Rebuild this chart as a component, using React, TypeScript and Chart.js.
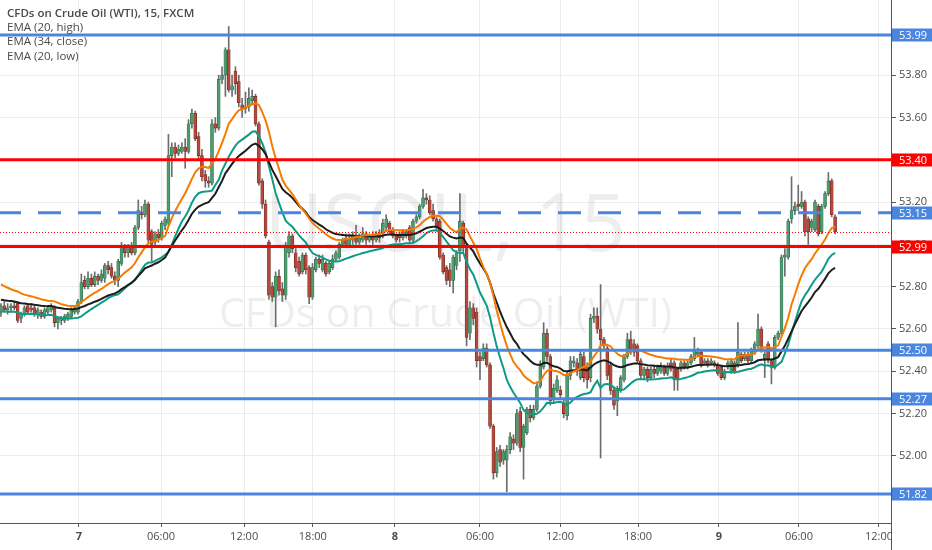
import { useEffect, useRef } from 'react';
import { Chart, registerables } from 'chart.js';

Chart.register(...registerables);

// [open, high, low, close], one row per 15 min bar
type Bar = [number, number, number, number];

const barsDay6: Bar[] = [
    [52.68, 52.72, 52.66, 52.71], [52.71, 52.73, 52.68, 52.69], [52.69, 52.72, 52.67, 52.70], [52.70, 52.72, 52.68, 52.71],
    [52.71, 52.73, 52.69, 52.70], [52.72, 52.73, 52.63, 52.64], [52.65, 52.68, 52.63, 52.67], [52.67, 52.71, 52.66, 52.70],
    [52.71, 52.72, 52.67, 52.68], [52.70, 52.72, 52.68, 52.69], [52.70, 52.71, 52.66, 52.67], [52.67, 52.70, 52.65, 52.69],
    [52.68, 52.69, 52.65, 52.66], [52.66, 52.70, 52.65, 52.69], [52.68, 52.71, 52.67, 52.70], [52.69, 52.72, 52.68, 52.71],
    [52.70, 52.71, 52.61, 52.63], [52.63, 52.66, 52.60, 52.65], [52.64, 52.66, 52.62, 52.65], [52.64, 52.67, 52.63, 52.66],
    [52.65, 52.68, 52.64, 52.67], [52.66, 52.70, 52.65, 52.69], [52.68, 52.71, 52.67, 52.70],
];

const barsDay7: Bar[] = [
    [52.68, 52.74, 52.67, 52.73], [52.73, 52.86, 52.72, 52.82], [52.83, 52.85, 52.79, 52.80], [52.80, 52.87, 52.79, 52.84],
    [52.84, 52.86, 52.80, 52.81], [52.81, 52.87, 52.80, 52.85], [52.85, 52.86, 52.81, 52.83], [52.83, 52.88, 52.82, 52.86],
    [52.84, 52.91, 52.82, 52.90], [52.90, 52.92, 52.86, 52.88], [52.89, 52.91, 52.84, 52.85], [52.85, 52.87, 52.81, 52.83],
    [52.83, 52.93, 52.80, 52.92], [52.91, 53.01, 52.90, 52.99], [52.99, 53.00, 52.94, 52.96], [52.96, 53.00, 52.94, 52.99],
    [52.99, 53.01, 52.95, 52.96], [52.96, 53.09, 52.95, 53.08], [53.08, 53.21, 53.07, 53.16], [53.15, 53.18, 53.12, 53.14],
    [53.14, 53.21, 53.13, 53.19], [53.19, 53.20, 53.01, 53.02], [53.06, 53.07, 52.92, 53.00], [53.01, 53.06, 52.99, 53.05],
    [53.05, 53.07, 53.01, 53.03], [53.03, 53.11, 53.02, 53.10], [53.09, 53.13, 53.07, 53.12], [53.10, 53.52, 53.09, 53.42],
    [53.42, 53.48, 53.32, 53.46], [53.46, 53.48, 53.41, 53.43], [53.43, 53.47, 53.42, 53.45], [53.44, 53.48, 53.43, 53.46],
    [53.46, 53.50, 53.36, 53.44], [53.44, 53.59, 53.43, 53.57], [53.57, 53.64, 53.55, 53.62], [53.62, 53.63, 53.49, 53.50],
    [53.51, 53.53, 53.40, 53.42], [53.42, 53.45, 53.30, 53.32], [53.33, 53.35, 53.27, 53.30], [53.30, 53.32, 53.27, 53.29],
    [53.29, 53.59, 53.28, 53.57], [53.57, 53.60, 53.53, 53.55], [53.55, 53.80, 53.54, 53.78], [53.78, 53.84, 53.76, 53.80],
    [53.80, 53.93, 53.70, 53.92], [53.92, 54.03, 53.72, 53.73], [53.73, 53.80, 53.70, 53.75], [53.82, 53.84, 53.71, 53.76],
    [53.77, 53.80, 53.65, 53.67], [53.66, 53.69, 53.60, 53.64], [53.64, 53.72, 53.62, 53.65], [53.65, 53.74, 53.63, 53.69],
    [53.68, 53.73, 53.66, 53.70], [53.70, 53.71, 53.56, 53.57], [53.57, 53.58, 53.28, 53.29], [53.30, 53.31, 53.17, 53.19],
    [53.19, 53.21, 53.03, 53.04], [53.01, 53.02, 52.74, 52.76], [52.80, 52.82, 52.73, 52.75], [52.75, 52.87, 52.61, 52.85],
    [52.85, 52.88, 52.76, 52.78], [52.79, 52.82, 52.73, 52.76], [52.76, 53.01, 52.74, 52.99], [52.96, 53.06, 52.94, 53.04],
    [53.04, 53.05, 52.96, 52.98], [52.96, 52.98, 52.87, 52.89], [52.92, 52.94, 52.85, 52.86], [52.87, 52.96, 52.86, 52.95],
    [52.95, 52.96, 52.86, 52.88], [52.89, 52.90, 52.72, 52.75], [52.75, 52.91, 52.74, 52.89], [52.88, 52.94, 52.87, 52.93],
    [52.93, 52.95, 52.89, 52.91], [52.88, 52.95, 52.87, 52.93], [52.91, 52.92, 52.85, 52.86], [52.87, 52.92, 52.86, 52.91],
    [52.89, 52.95, 52.88, 52.93], [52.93, 52.97, 52.92, 52.96], [52.94, 53.01, 52.93, 53.00], [53.00, 53.03, 52.99, 53.02],
    [53.03, 53.05, 52.99, 53.00], [53.00, 53.05, 52.99, 53.03], [53.02, 53.06, 53.00, 53.04], [53.04, 53.09, 53.00, 53.01],
    [53.01, 53.05, 53.00, 53.03], [53.02, 53.08, 53.01, 53.05], [53.05, 53.06, 53.00, 53.02], [53.02, 53.05, 53.01, 53.04],
    [53.04, 53.06, 53.00, 53.02], [53.02, 53.06, 53.01, 53.05], [53.05, 53.07, 53.01, 53.03], [53.05, 53.12, 53.03, 53.10],
    [53.08, 53.14, 53.06, 53.12], [53.10, 53.11, 53.05, 53.06], [53.07, 53.08, 53.03, 53.04], [53.04, 53.05, 53.01, 53.02],
];

const barsDay8: Bar[] = [
    [53.05, 53.06, 53.01, 53.03], [53.03, 53.07, 53.02, 53.06], [53.04, 53.07, 53.03, 53.06], [53.08, 53.09, 53.01, 53.02],
    [53.02, 53.12, 53.01, 53.11], [53.11, 53.14, 53.10, 53.13], [53.13, 53.19, 53.12, 53.18], [53.18, 53.26, 53.17, 53.22],
    [53.22, 53.24, 53.19, 53.21], [53.21, 53.23, 53.14, 53.15], [53.16, 53.19, 53.11, 53.12], [53.12, 53.13, 53.07, 53.08],
    [53.11, 53.12, 52.93, 52.94], [52.95, 52.96, 52.86, 52.87], [52.89, 52.90, 52.81, 52.83], [52.88, 52.91, 52.80, 52.83],
    [52.83, 52.95, 52.77, 52.94], [52.90, 52.97, 52.88, 52.96], [52.97, 53.24, 52.92, 53.11], [53.10, 53.11, 52.96, 52.99],
    [52.98, 53.00, 52.52, 52.56], [52.58, 52.73, 52.55, 52.70], [52.70, 52.72, 52.62, 52.65], [52.68, 52.70, 52.42, 52.45],
    [52.47, 52.49, 52.36, 52.45], [52.46, 52.53, 52.45, 52.51], [52.51, 52.53, 52.42, 52.43], [52.43, 52.44, 52.13, 52.14],
    [52.14, 52.15, 51.89, 51.92], [51.92, 52.04, 51.90, 52.02], [52.03, 52.05, 51.95, 51.97], [51.98, 52.03, 51.96, 52.02],
    [51.98, 52.05, 51.83, 52.03], [52.03, 52.11, 52.01, 52.09], [52.08, 52.10, 52.03, 52.06], [52.06, 52.22, 52.05, 52.20],
    [52.21, 52.23, 52.02, 52.04], [52.04, 52.15, 51.89, 52.14], [52.11, 52.23, 52.10, 52.22], [52.22, 52.24, 52.16, 52.18],
    [52.18, 52.24, 52.17, 52.22], [52.22, 52.35, 52.21, 52.33], [52.33, 52.45, 52.32, 52.43], [52.42, 52.63, 52.41, 52.58],
    [52.58, 52.60, 52.45, 52.47], [52.47, 52.48, 52.24, 52.26], [52.27, 52.34, 52.25, 52.32], [52.31, 52.38, 52.30, 52.36],
    [52.31, 52.33, 52.27, 52.29], [52.25, 52.27, 52.18, 52.20], [52.19, 52.40, 52.17, 52.38], [52.38, 52.47, 52.36, 52.45],
    [52.44, 52.47, 52.42, 52.45], [52.44, 52.46, 52.38, 52.40], [52.37, 52.50, 52.36, 52.48], [52.47, 52.49, 52.35, 52.37],
    [52.42, 52.44, 52.32, 52.36], [52.37, 52.67, 52.35, 52.65], [52.65, 52.70, 52.63, 52.66], [52.66, 52.70, 52.58, 52.60],
    [52.60, 52.81, 51.99, 52.55], [52.55, 52.56, 52.50, 52.52], [52.51, 52.52, 52.36, 52.38], [52.43, 52.44, 52.29, 52.31],
    [52.31, 52.32, 52.22, 52.24], [52.26, 52.33, 52.19, 52.32], [52.31, 52.38, 52.30, 52.37], [52.36, 52.48, 52.35, 52.47],
    [52.47, 52.58, 52.46, 52.55], [52.55, 52.59, 52.48, 52.49], [52.53, 52.55, 52.47, 52.49], [52.52, 52.53, 52.44, 52.45],
    [52.45, 52.46, 52.36, 52.38], [52.38, 52.42, 52.36, 52.41], [52.41, 52.42, 52.35, 52.37], [52.37, 52.42, 52.36, 52.41],
    [52.41, 52.43, 52.37, 52.39], [52.39, 52.43, 52.38, 52.42], [52.40, 52.44, 52.39, 52.42], [52.42, 52.43, 52.38, 52.39],
    [52.39, 52.44, 52.38, 52.42], [52.44, 52.46, 52.40, 52.41], [52.44, 52.45, 52.31, 52.36], [52.41, 52.42, 52.31, 52.36],
    [52.41, 52.45, 52.40, 52.44], [52.44, 52.45, 52.41, 52.42], [52.42, 52.45, 52.41, 52.44], [52.44, 52.48, 52.43, 52.47],
    [52.46, 52.56, 52.45, 52.50], [52.48, 52.51, 52.47, 52.49], [52.49, 52.50, 52.42, 52.43], [52.44, 52.46, 52.43, 52.45],
    [52.45, 52.46, 52.42, 52.43], [52.44, 52.46, 52.43, 52.45], [52.44, 52.45, 52.42, 52.43], [52.43, 52.44, 52.38, 52.39],
];

const barsDay9: Bar[] = [
    [52.42, 52.43, 52.36, 52.37], [52.37, 52.41, 52.36, 52.40], [52.42, 52.45, 52.41, 52.44], [52.40, 52.46, 52.39, 52.45],
    [52.44, 52.45, 52.39, 52.40], [52.43, 52.63, 52.42, 52.49], [52.48, 52.49, 52.44, 52.45], [52.46, 52.49, 52.45, 52.48],
    [52.48, 52.49, 52.44, 52.45], [52.45, 52.51, 52.44, 52.50], [52.49, 52.54, 52.48, 52.53], [52.52, 52.67, 52.51, 52.60],
    [52.60, 52.61, 52.49, 52.50], [52.46, 52.50, 52.37, 52.48], [52.53, 52.54, 52.44, 52.46], [52.45, 52.46, 52.34, 52.42],
    [52.42, 52.57, 52.41, 52.56], [52.56, 52.59, 52.55, 52.58], [52.58, 52.95, 52.57, 52.94], [52.94, 52.98, 52.85, 52.95],
    [52.94, 53.12, 52.93, 53.11], [53.12, 53.32, 53.10, 53.16], [53.16, 53.20, 53.14, 53.18], [53.19, 53.28, 53.16, 53.18],
    [53.18, 53.25, 53.17, 53.20], [53.20, 53.21, 53.04, 53.06], [53.12, 53.13, 53.00, 53.06], [53.08, 53.12, 53.06, 53.11],
    [53.07, 53.21, 53.06, 53.20], [53.18, 53.19, 53.04, 53.05], [53.06, 53.19, 53.05, 53.18], [53.18, 53.25, 53.17, 53.24],
    [53.24, 53.34, 53.23, 53.30], [53.30, 53.31, 53.13, 53.14], [53.13, 53.14, 53.05, 53.06],
];

// bar index 0 = day 7 00:00
const firstBarIndex = -23;
const timeTickPositions = [0.3, 24.8, 49.6, 70.1, 94.6, 120, 143.9, 167.2, 191.3, 215.2, 239.1];
const timeTickLabels = ['7', '06:00', '12:00', '18:00', '8', '06:00', '12:00', '18:00', '9', '06:00', '12:00'];
const dayLabels = ['7', '8', '9'];
const priceTicks = [52.0, 52.2, 52.4, 52.6, 52.8, 53.0, 53.2, 53.4, 53.6, 53.8];

const blueLevels = [53.99, 52.5, 52.27, 51.82];
const redLevels = [53.4, 52.99];
const dashedLevels = [53.15];

// EMA values at the left edge of the picture (history before the first bar)
const emaHighSeed = 52.82;
const emaCloseSeed = 52.74;
const emaLowSeed = 52.685;

const FONT = '"Open Sans", "DejaVu Sans", sans-serif';
const BLUE = '#4a86e0';
const RED = '#ff0000';
const UP = '#4e9c70';
const UP_EDGE = '#2b6a47';
const DOWN = '#b54a3c';
const DOWN_EDGE = '#6f241c';
const WICK = '#6d6d6d';

const allBars = [...barsDay6, ...barsDay7, ...barsDay8, ...barsDay9];
const xs = allBars.map((_, k) => firstBarIndex + k);

function ema(values: number[], length: number, seed: number) {
    const k = 2 / (length + 1);
    let prev = seed;
    return values.map((v) => {
        prev = v * k + prev * (1 - k);
        return prev;
    });
}

const emaHigh = ema(allBars.map((b) => b[1]), 20, emaHighSeed);
const emaClose = ema(allBars.map((b) => b[3]), 34, emaCloseSeed);
const emaLow = ema(allBars.map((b) => b[2]), 20, emaLowSeed);

const overlayPlugin = {
    id: 'overlay',
    beforeDatasetsDraw(chart: any) {
        const { ctx, chartArea } = chart;
        const cx = (chartArea.left + chartArea.right) / 2;
        ctx.save();
        ctx.fillStyle = 'rgba(120, 124, 134, 0.13)';
        ctx.textAlign = 'center';
        ctx.textBaseline = 'middle';
        ctx.font = `80px ${FONT}`;
        ctx.fillText('USOIL, 15', cx, 228);
        ctx.font = `41px ${FONT}`;
        ctx.fillText('CFDs on Crude Oil (WTI)', cx, 315);
        ctx.restore();
    },
    afterDatasetsDraw(chart: any) {
        const { ctx, chartArea, scales } = chart;
        const y = scales.y;
        ctx.save();
        ctx.beginPath();
        ctx.rect(chartArea.left, chartArea.top, chartArea.right - chartArea.left, chartArea.bottom - chartArea.top);
        ctx.clip();

        const last = allBars[allBars.length - 1][3];
        ctx.strokeStyle = RED;
        ctx.lineWidth = 1;
        ctx.setLineDash([1, 2]);
        const py = Math.round(y.getPixelForValue(last)) + 0.5;
        ctx.beginPath();
        ctx.moveTo(chartArea.left, py);
        ctx.lineTo(chartArea.right, py);
        ctx.stroke();

        const drawLevel = (v: number, color: string, dash: number[]) => {
            const p = y.getPixelForValue(v);
            ctx.strokeStyle = color;
            ctx.lineWidth = 3;
            ctx.setLineDash(dash);
            ctx.lineDashOffset = 2;
            ctx.beginPath();
            ctx.moveTo(chartArea.left, p);
            ctx.lineTo(chartArea.right, p);
            ctx.stroke();
        };
        blueLevels.forEach((v) => drawLevel(v, BLUE, []));
        redLevels.forEach((v) => drawLevel(v, RED, []));
        dashedLevels.forEach((v) => drawLevel(v, BLUE, [23, 17]));
        ctx.restore();
    },
    afterDraw(chart: any) {
        const { ctx, chartArea, scales, width, height } = chart;
        const y = scales.y;
        ctx.save();
        // hide the part of the time labels that runs under the price scale
        ctx.fillStyle = '#ffffff';
        ctx.fillRect(chartArea.right + 0.5, chartArea.bottom + 0.5, width - chartArea.right, height - chartArea.bottom);
        ctx.strokeStyle = '#555555';
        ctx.lineWidth = 1;
        ctx.beginPath();
        ctx.moveTo(chartArea.right + 0.5, chartArea.bottom);
        ctx.lineTo(chartArea.right + 0.5, height);
        ctx.stroke();

        const box = (v: number, color: string) => {
            const p = Math.round(y.getPixelForValue(v));
            ctx.fillStyle = color;
            ctx.fillRect(chartArea.right + 1, p - 6.5, width - chartArea.right - 1, 13);
            ctx.fillStyle = '#ffffff';
            ctx.font = `11px ${FONT}`;
            ctx.textAlign = 'left';
            ctx.textBaseline = 'middle';
            ctx.fillText(v.toFixed(2), chartArea.right + 8, p + 0.5);
        };
        blueLevels.forEach((v) => box(v, BLUE));
        dashedLevels.forEach((v) => box(v, BLUE));
        redLevels.forEach((v) => box(v, RED));

        ctx.fillStyle = '#4a4a4a';
        ctx.textAlign = 'left';
        ctx.textBaseline = 'middle';
        ctx.font = `600 11.5px ${FONT}`;
        ctx.fillText('CFDs on Crude Oil (WTI), 15, FXCM', 7, 14);
        ctx.font = `11.5px ${FONT}`;
        ctx.fillText('EMA (20, high)', 7, 28);
        ctx.fillText('EMA (34, close)', 7, 42);
        ctx.fillText('EMA (20, low)', 7, 56.5);
        ctx.restore();
    },
};

const CrudeOilChart = () => {
    const chartRef = useRef<HTMLCanvasElement | null>(null);

    useEffect(() => {
        document.body.style.margin = '0';
        const ctx = chartRef.current?.getContext('2d');
        if (!ctx) return;

        const lineDataset = (label: string, values: number[], color: string) => ({
            type: 'line' as const,
            label,
            data: values.map((v, k) => ({ x: xs[k], y: v })),
            borderColor: color,
            borderWidth: 2,
            pointRadius: 0,
            tension: 0,
            order: 0,
        });

        const myChart = new Chart(ctx, {
            type: 'bar',
            data: {
                datasets: [
                    lineDataset('EMA (20, high)', emaHigh, '#f57c00'),
                    lineDataset('EMA (34, close)', emaClose, '#1c1c1c'),
                    lineDataset('EMA (20, low)', emaLow, '#0e9a86'),
                    {
                        type: 'bar',
                        label: 'body',
                        data: allBars.map((b, k) => ({ x: xs[k], y: [b[0], b[3]] })),
                        backgroundColor: allBars.map((b) => (b[3] >= b[0] ? UP : DOWN)),
                        borderColor: allBars.map((b) => (b[3] >= b[0] ? UP_EDGE : DOWN_EDGE)),
                        borderWidth: 0.6,
                        borderSkipped: false,
                        barThickness: 3,
                        minBarLength: 1,
                        grouped: false,
                        order: 1,
                    },
                    {
                        type: 'bar',
                        label: 'wick',
                        data: allBars.map((b, k) => ({ x: xs[k], y: [b[2], b[1]] })),
                        backgroundColor: WICK,
                        barThickness: 1,
                        grouped: false,
                        order: 2,
                    },
                ] as any,
            },
            options: {
                animation: false,
                responsive: true,
                maintainAspectRatio: false,
                layout: { padding: 0, autoPadding: false },
                plugins: {
                    legend: { display: false },
                    tooltip: { enabled: false },
                },
                scales: {
                    x: {
                        type: 'linear',
                        min: -23.28,
                        max: 242.69,
                        offset: false,
                        grid: { color: '#ececec', offset: false, tickLength: 4, tickColor: '#555555' },
                        border: { color: '#555555' },
                        afterBuildTicks: (scale: any) => {
                            scale.ticks = timeTickPositions.map((value) => ({ value }));
                        },
                        afterFit: (scale: any) => {
                            scale.height = 27;
                            scale.paddingLeft = 0;
                            scale.paddingRight = 0;
                        },
                        ticks: {
                            autoSkip: false,
                            maxRotation: 0,
                            padding: 3,
                            color: '#4c4c4c',
                            font: (c: any) => ({
                                family: FONT,
                                size: 11,
                                weight: dayLabels.includes(timeTickLabels[c.index]) ? 'bold' : 'normal',
                            }),
                            callback: (_v: any, i: number) => timeTickLabels[i],
                        },
                    },
                    y: {
                        type: 'linear',
                        position: 'right',
                        min: 51.6827,
                        max: 54.1555,
                        grid: { color: '#ececec', tickLength: 5, tickColor: '#555555' },
                        border: { color: '#555555' },
                        afterBuildTicks: (scale: any) => {
                            scale.ticks = priceTicks.map((value) => ({ value }));
                        },
                        afterFit: (scale: any) => {
                            scale.width = 41;
                            scale.paddingTop = 0;
                            scale.paddingBottom = 0;
                        },
                        ticks: {
                            padding: 3,
                            color: '#4c4c4c',
                            font: { family: FONT, size: 11 },
                            callback: (v: any) => Number(v).toFixed(2),
                        },
                    },
                },
            } as any,
            plugins: [overlayPlugin],
        });

        return () => {
            myChart.destroy();
        };
    }, []);

    return (
        <div style={{ width: 932, height: 550, position: 'relative', background: '#ffffff' }}>
            <canvas ref={chartRef} id="usoil-chart" />
        </div>
    );
};

export default function App() {
    return <CrudeOilChart />;
}
